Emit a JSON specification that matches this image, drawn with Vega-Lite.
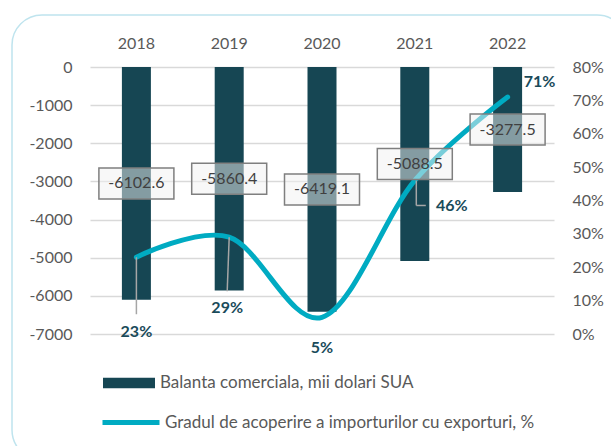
{
  "$schema": "https://vega.github.io/schema/vega-lite/v6.json",
  "width": 615,
  "height": 445,
  "autosize": {"type": "none"},
  "padding": {"left": 12, "top": 15, "right": -16, "bottom": -14},
  "background": "white",
  "config": {
    "font": "Lato",
    "view": {"stroke": "#bfe4ee", "strokeWidth": 1.5, "cornerRadius": 30},
    "axis": {"labelFont": "Lato", "labelFontSize": 16, "labelColor": "#595959", "domain": false, "ticks": false, "tickSize": 0, "labelPadding": 0},
    "legend": {"labelFont": "Lato", "labelFontSize": 17, "labelColor": "#595959", "padding": 0, "labelLimit": 0}
  },
  "data": {"values": [
    {"year": "2018", "balance": -6102.6, "pct": 0.23},
    {"year": "2019", "balance": -5860.4, "pct": 0.29},
    {"year": "2020", "balance": -6419.1, "pct": 0.05},
    {"year": "2021", "balance": -5088.5, "pct": 0.46},
    {"year": "2022", "balance": -3277.5, "pct": 0.71}
  ]},
  "encoding": {
    "x": {"field": "year", "type": "ordinal", "title": null, "scale": {"range": [78, 542], "paddingInner": 0, "paddingOuter": 0},
      "axis": {"orient": "top", "offset": -28, "labelBaseline": "middle", "labelAngle": 0, "grid": false}}
  },
  "layer": [
    {
      "mark": {"type": "bar", "width": {"band": 0.3125}},
      "encoding": {
        "y": {"field": "balance", "type": "quantitative", "title": null,
          "scale": {"domain": [-7000, 0], "range": [319, 52], "nice": false, "zero": false},
          "axis": {"orient": "left", "offset": -60, "values": [0, -1000, -2000, -3000, -4000, -5000, -6000, -7000], "labelExpr": "datum.value + ''", "grid": true, "gridColor": "#d9d9d9", "gridWidth": 1.5}},
        "fill": {"datum": "Balanta comerciala, mii dolari SUA", "type": "nominal", "scale": {"range": ["#164653"]},
          "legend": {"orient": "none", "legendX": 91, "legendY": 342, "symbolType": "M-1,-0.2H1V0.2H-1Z", "symbolSize": 2704, "symbolStrokeWidth": 0, "labelOffset": 5, "title": null}}
      }
    },
    {
      "encoding": {
        "y": {"field": "pct", "type": "quantitative", "title": null,
          "scale": {"domain": [0, 0.8], "range": [319, 52], "nice": false, "zero": false},
          "axis": {"orient": "right", "offset": -55, "values": [0, 0.1, 0.2, 0.3, 0.4, 0.5, 0.6, 0.7, 0.8], "format": ".0%", "grid": false}}
      },
      "layer": [
        {
          "mark": {"type": "line", "interpolate": "cardinal", "strokeWidth": 5, "strokeCap": "round"},
          "encoding": {
            "stroke": {"datum": "Gradul de acoperire a importurilor cu exporturi, %", "type": "nominal", "scale": {"range": ["#00abc2"]},
              "legend": {"orient": "none", "legendX": 88, "legendY": 376.5, "symbolType": "stroke", "symbolSize": 3249, "symbolStrokeWidth": 5, "labelOffset": 3, "title": null}}
          }
        },
        {
          "transform": [{"filter": "datum.year == '2018'"}],
          "mark": {"type": "rule", "color": "#a6a6a6", "strokeWidth": 1.5, "y2Offset": 57},
          "encoding": {"y2": {"field": "pct"}}
        },
        {
          "transform": [{"filter": "datum.year == '2019'"}],
          "mark": {"type": "rule", "color": "#a6a6a6", "strokeWidth": 1.5, "y2Offset": 54, "x2Offset": -2},
          "encoding": {"y2": {"field": "pct"}, "x2": {"field": "year"}}
        },
        {
          "transform": [{"filter": "datum.year == '2021'"}],
          "mark": {"type": "rule", "color": "#a6a6a6", "strokeWidth": 1.5, "y2Offset": 25, "xOffset": 1.5},
          "encoding": {"y2": {"field": "pct"}}
        },
        {
          "transform": [{"filter": "datum.year == '2021'"}],
          "mark": {"type": "rule", "color": "#a6a6a6", "strokeWidth": 1.5, "yOffset": 25, "xOffset": 1.5, "x2Offset": 11},
          "encoding": {"x2": {"field": "year"}}
        },
        {
          "transform": [{"filter": "datum.year == '2018'"}],
          "mark": {"type": "text", "fontSize": 16, "fontWeight": "bold", "color": "#1a4b5a", "baseline": "middle", "dy": 75},
          "encoding": {"text": {"field": "pct", "type": "quantitative", "format": ".0%"}}
        },
        {
          "transform": [{"filter": "datum.year == '2019'"}],
          "mark": {"type": "text", "fontSize": 16, "fontWeight": "bold", "color": "#1a4b5a", "baseline": "middle", "dx": -2, "dy": 71},
          "encoding": {"text": {"field": "pct", "type": "quantitative", "format": ".0%"}}
        },
        {
          "transform": [{"filter": "datum.year == '2020'"}],
          "mark": {"type": "text", "fontSize": 16, "fontWeight": "bold", "color": "#1a4b5a", "baseline": "middle", "dy": 31},
          "encoding": {"text": {"field": "pct", "type": "quantitative", "format": ".0%"}}
        },
        {
          "transform": [{"filter": "datum.year == '2021'"}],
          "mark": {"type": "text", "fontSize": 16, "fontWeight": "bold", "color": "#1a4b5a", "baseline": "middle", "dx": 37, "dy": 26},
          "encoding": {"text": {"field": "pct", "type": "quantitative", "format": ".0%"}}
        },
        {
          "transform": [{"filter": "datum.year == '2022'"}],
          "mark": {"type": "text", "fontSize": 16, "fontWeight": "bold", "color": "#1a4b5a", "baseline": "middle", "dx": 32, "dy": -15},
          "encoding": {"text": {"field": "pct", "type": "quantitative", "format": ".0%"}}
        }
      ]
    },
    {
      "transform": [{"calculate": "datum.balance / 2", "as": "mid"}],
      "encoding": {
        "y": {"field": "mid", "type": "quantitative", "title": null, "scale": {"domain": [-7000, 0], "range": [319, 52], "nice": false, "zero": false}, "axis": null}
      },
      "layer": [
        {
          "mark": {"type": "point", "shape": "M-1,-0.4133H1V0.4133H-1Z", "size": 5625, "filled": true, "fill": "#f2f2f2", "fillOpacity": 0.5, "stroke": "#7f7f7f", "strokeWidth": 1.5, "opacity": 1}
        },
        {
          "mark": {"type": "text", "fontSize": 16, "color": "#404040", "baseline": "middle"},
          "encoding": {"text": {"field": "balance", "type": "nominal"}}
        }
      ]
    }
  ],
  "resolve": {"scale": {"y": "independent"}}
}
